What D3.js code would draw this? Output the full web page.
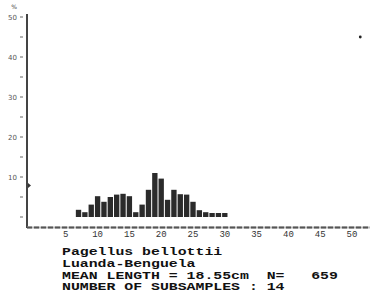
<!DOCTYPE html>
<html>
<head>
<meta charset="utf-8">
<script src="https://d3js.org/d3.v7.min.js"></script>
<style>
  body { margin: 0; background: #fff; }
  svg { display: block; }
</style>
</head>
<body>
<script>
// length classes (cm) and percentage of fish in each class
var lengths  = [7, 8, 9, 10, 11, 12, 13, 14, 15, 16, 17, 18, 19, 20, 21, 22, 23, 24, 25, 26, 27, 28, 29, 30];
var percents = [1.8, 1.2, 3.1, 5.2, 3.8, 5.0, 5.6, 5.8, 5.2, 1.2, 3.1, 6.8, 11.0, 9.6, 4.3, 6.8, 5.7, 5.6, 3.8, 1.7, 1.2, 1.0, 1.0, 1.0];
var xTicks = [5, 10, 15, 20, 25, 30, 35, 40, 45, 50];
var yTicks = [10, 20, 30, 40, 50];
var yMinor = [0, 5, 15, 25, 35, 45];
var caption = [
  "Pagellus bellottii",
  "Luanda-Benguela",
  "MEAN LENGTH = 18.55cm  N=   659",
  "NUMBER OF SUBSAMPLES : 14"
];

var W = 370, H = 303;
var svg = d3.select("body").append("svg").attr("width", W).attr("height", H);

var x = d3.scaleLinear().domain([0, 50]).range([34, 352]);
var y = d3.scaleLinear().domain([0, 50]).range([217, 17]);

// bars
svg.append("g").selectAll("rect")
  .data(lengths)
  .enter().append("rect")
  .attr("x", function(d) { return x(d - 0.42); })
  .attr("width", function(d) { return x(0.84) - x(0); })
  .attr("y", function(d, i) { return y(percents[i]); })
  .attr("height", function(d, i) { return y(0) - y(percents[i]); })
  .attr("fill", "#2b2b2b");

// y axis
svg.append("line")
  .attr("x1", 27).attr("x2", 27).attr("y1", 14).attr("y2", 228)
  .attr("stroke", "#444").attr("stroke-width", 2);

svg.append("g").selectAll("line")
  .data(yTicks.concat(yMinor))
  .enter().append("line")
  .attr("x1", 20).attr("x2", 23)
  .attr("y1", function(d) { return y(d); })
  .attr("y2", function(d) { return y(d); })
  .attr("stroke", "#666").attr("stroke-width", 1);

svg.append("g").selectAll("text")
  .data(yTicks)
  .enter().append("text")
  .attr("x", 17)
  .attr("y", function(d) { return y(d) + 2.5; })
  .attr("text-anchor", "end")
  .attr("font-family", "DejaVu Sans")
  .attr("font-size", 7)
  .attr("fill", "#555")
  .text(function(d) { return d; });

svg.append("text")
  .attr("x", 14).attr("y", 9)
  .attr("text-anchor", "middle")
  .attr("font-family", "DejaVu Sans")
  .attr("font-size", 6)
  .attr("fill", "#444")
  .text("%");

// small marker on the y axis
svg.append("path")
  .attr("d", "M28,183 L31,185.5 L28,188 Z")
  .attr("fill", "#333");

// x axis (dashed)
svg.append("line")
  .attr("x1", 27).attr("x2", 370).attr("y1", 227.5).attr("y2", 227.5)
  .attr("stroke", "#bbb").attr("stroke-width", 2);
svg.append("line")
  .attr("x1", 27).attr("x2", 370).attr("y1", 227.5).attr("y2", 227.5)
  .attr("stroke", "#555").attr("stroke-width", 2)
  .attr("stroke-dasharray", "5,2");

svg.append("g").selectAll("text")
  .data(xTicks)
  .enter().append("text")
  .attr("x", function(d) { return x(d); })
  .attr("y", 237)
  .attr("text-anchor", "middle")
  .attr("font-family", "Liberation Mono")
  .attr("font-size", 9)
  .attr("fill", "#333")
  .text(function(d) { return d; });

// lone point at upper right
svg.append("circle")
  .attr("cx", x(51.3)).attr("cy", 37).attr("r", 1.4)
  .attr("fill", "#222");

// caption: wide typewriter letters, tight lines
svg.append("g").selectAll("text")
  .data(caption)
  .enter().append("text")
  .attr("x", 62)
  .attr("y", function(d, i) { return 255 + i * 11.8; })
  .attr("font-family", "Liberation Mono")
  .attr("font-size", 10.5)
  .attr("font-weight", "bold")
  .attr("fill", "#111")
  .attr("textLength", function(d) { return d.length * 8.9; })
  .attr("lengthAdjust", "spacingAndGlyphs")
  .style("white-space", "pre")
  .text(function(d) { return d; });
</script>
</body>
</html>
